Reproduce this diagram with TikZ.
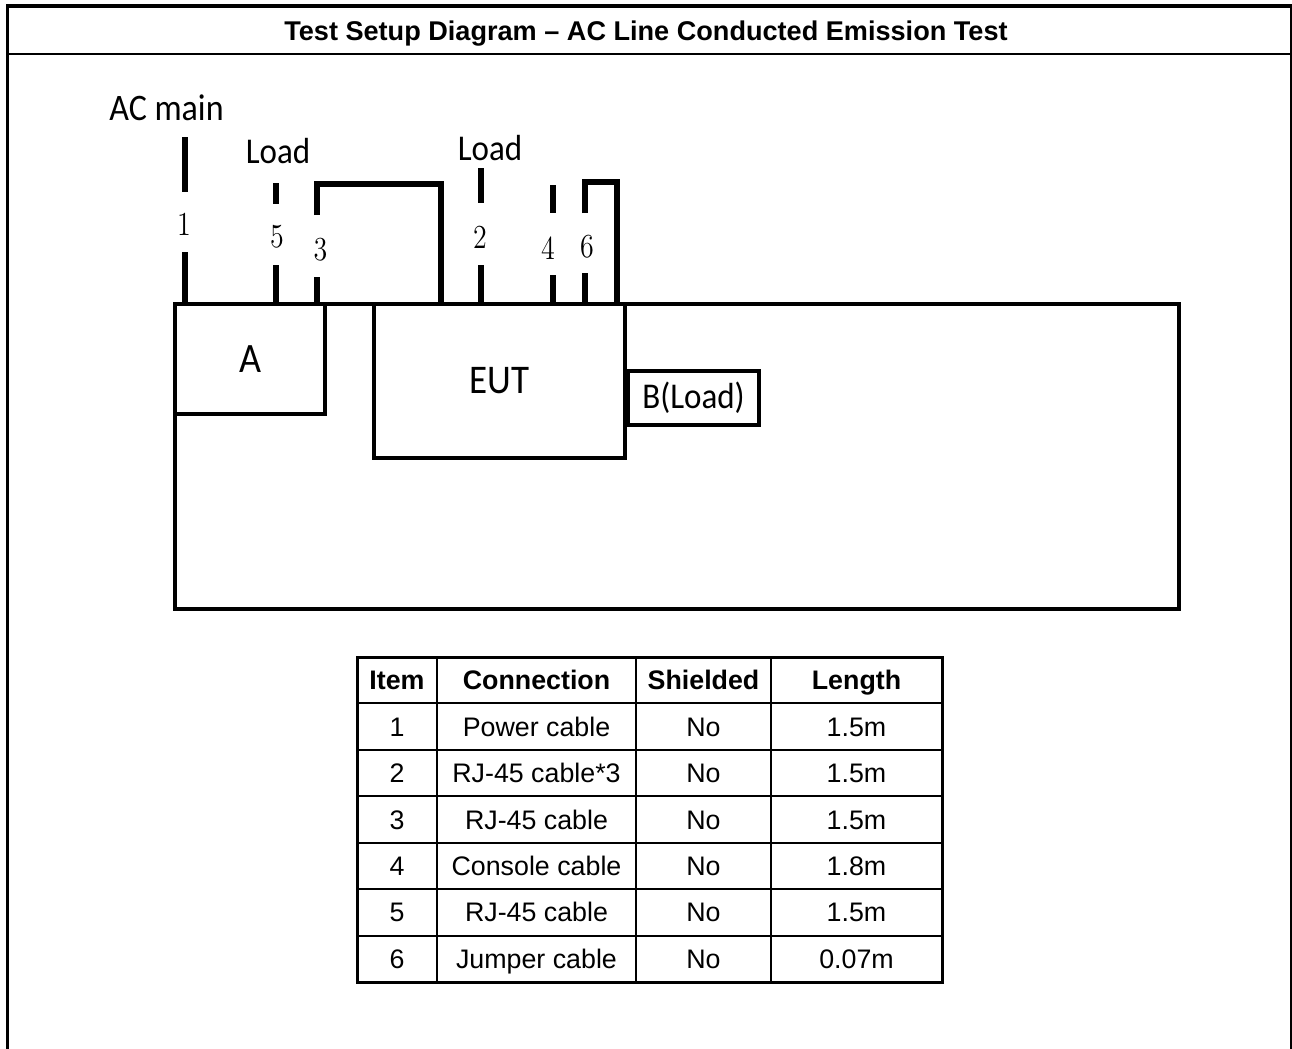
\documentclass[tikz,border=0pt]{standalone}
\usepackage{fontspec}
\usepackage{graphicx}
\usepackage{tikz}
\usetikzlibrary{positioning, calc}
\newfontfamily\arialfont{Liberation Sans}
\newfontfamily\calibrifont{Carlito}
\newcommand{\tallx}[2][1.1]{\scalebox{1}[#1]{#2}}

\begin{document}
\begin{tikzpicture}[x=0.5pt,y=-0.5pt,
  frameline/.style={line width=1.75pt},
  cellline/.style={line width=1pt},
  boxline/.style={draw,line width=2.4pt,inner sep=0pt,outer sep=0pt,anchor=north west},
  cable/.style={line width=2.6pt,line join=miter},
  cablenum/.style={anchor=base,inner sep=0pt,font=\fontsize{14}{14}\selectfont},
  sketchlabel/.style={anchor=base,inner sep=0pt,font=\calibrifont\fontsize{16.5}{18}\selectfont},
  headcell/.style={inner sep=0pt,text height=9.6pt,text depth=0pt,font=\arialfont\bfseries\fontsize{13.4}{15}\selectfont},
  bodycell/.style={inner sep=0pt,text height=9.6pt,text depth=0pt,font=\arialfont\fontsize{13.4}{15}\selectfont}]
\useasboundingbox (0,0) rectangle (1292,1049);
\newcommand{\cablelead}[7]{%
  \node[cablenum] (n#1) at (#6) {\tallx[1.2]{#1}};
  \coordinate (t#1) at (#2,#3);
  \coordinate (g#1) at (#2,#5);
  \draw[cable] (t#1) -- (#2,#4);
  \draw[cable] (g#1) -- (g#1 |- #7.north);
}
\draw[frameline] (7.5,1049) -- (7.5,5.75) -- (1291.7,5.75) -- (1291.7,1049);
\draw[line width=1pt] (7.5,54.3) -- (1291.7,54.3);
\node[anchor=base,font=\arialfont\bfseries\fontsize{13.55}{16}\selectfont] (title) at (646,40) {Test Setup Diagram – AC Line Conducted Emission Test};

\node[boxline,minimum width=502pt,minimum height=152.5pt] (plane) at (175,304) {};
\node[boxline,minimum width=75pt,minimum height=55pt,font=\calibrifont\fontsize{19}{22}\selectfont] (unitA) at (175,304) {\tallx{A}};
\node[boxline,minimum width=125.5pt,minimum height=77pt,font=\calibrifont\fontsize{18.5}{22}\selectfont] (eut) at (374,304) {\tallx{EUT}};
\node[boxline,minimum width=65.5pt,minimum height=27pt,font=\calibrifont\fontsize{16.5}{20}\selectfont] (loadB) at (628,371) {\tallx{B(Load)}};

\node[sketchlabel,font=\calibrifont\fontsize{17}{20}\selectfont] (acmain) at (166.5,120) {\tallx{AC main}};
\node[sketchlabel] (loadleft) at (278,163) {\tallx{Load}};
\node[sketchlabel] (loadright) at (490,160) {\tallx{Load}};

\cablelead{1}{185}{137}{192}{252}{184,235}{unitA}
\cablelead{5}{276}{183}{204}{265}{277,247}{unitA}
\cablelead{3}{317}{184}{215}{277}{320.5,260}{unitA}
\cablelead{2}{481}{168}{203}{265}{480,248}{eut}
\cablelead{4}{553}{185}{213}{275}{548,259}{eut}
\cablelead{6}{585}{182}{213}{273}{587,257}{eut}
\coordinate (j3) at (441,184);
\draw[cable] (317,215) -- (t3) -- (j3) -- (j3 |- eut.north);
\coordinate (j6) at (617,182);
\draw[cable] (585,213) -- (t6) -- (j6) -- (j6 |- eut.north);

\foreach \x in {437,636,771}
  \draw[cellline] (\x,657) -- (\x,982);
\foreach \k in {1,...,6}
  \draw[cellline] (357,{657+46.43*\k}) -- (942,{657+46.43*\k});
\draw[line width=1.5pt] (357,657) rectangle (942,982);
\foreach \cx/\head [count=\c] in {397/Item,536.5/Connection,703.5/Shielded,856.5/Length}
  \node[headcell] (head-\c) at (\cx,680.2) {\head};
\foreach \conn/\len [count=\i] in {Power cable/1.5m,RJ-45 cable*3/1.5m,RJ-45 cable/1.5m,Console cable/1.8m,RJ-45 cable/1.5m,Jumper cable/0.07m} {
  \pgfmathsetmacro{\rowy}{657+46.43*(\i+0.5)}
  \node[bodycell] (item-\i) at (397,\rowy) {\i};
  \node[bodycell] (conn-\i) at (536.5,\rowy) {\conn};
  \node[bodycell] (shield-\i) at (703.5,\rowy) {No};
  \node[bodycell] (len-\i) at (856.5,\rowy) {\len};
}
\end{tikzpicture}
\end{document}
